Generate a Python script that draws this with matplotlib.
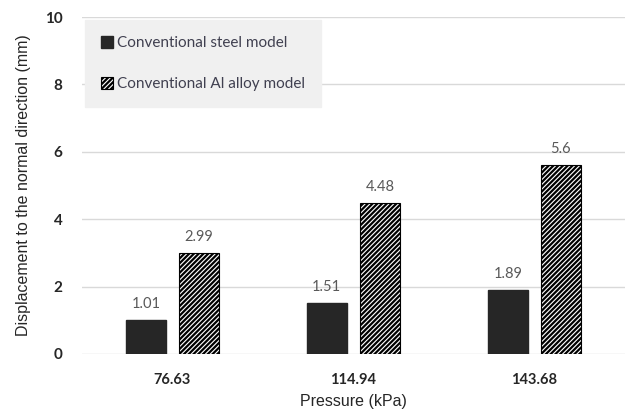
import matplotlib
matplotlib.use("Agg")
import matplotlib.pyplot as plt
import numpy as np

pressures = ["76.63", "114.94", "143.68"]
steel = [1.01, 1.51, 1.89]
al_alloy = [2.99, 4.48, 5.6]
series_names = ["Conventional steel model", "Conventional Al alloy model"]

plt.rcParams["hatch.linewidth"] = 1.6

fig = plt.figure(figsize=(6.33, 4.12), dpi=100)
ax = fig.add_axes([0.1295, 0.1408, 0.8575, 0.8179])

x = np.arange(len(pressures))
w = 0.22
b1 = ax.bar(x - 0.147, steel, w, color="#262626", edgecolor="#262626",
            label=series_names[0], zorder=3)
b2 = ax.bar(x + 0.147, al_alloy, w, color="white", edgecolor="black",
            hatch="///////", linewidth=0.8, label=series_names[1], zorder=3)

for bars, vals in ((b1, steel), (b2, al_alloy)):
    for rect, v in zip(bars, vals):
        ax.text(rect.get_x() + rect.get_width() / 2, v + 0.28, f"{v:g}",
                ha="center", va="bottom", fontsize=10.5, color="#595959",
                family="Lato")

ax.set_xlim(-0.5, 2.5)
ax.set_ylim(0, 10)
ax.set_yticks(np.arange(0, 11, 2))
ax.set_xticks(x)
ax.set_xticklabels(pressures, fontsize=10.5, fontweight="bold", family="Lato",
                   color="#262626")
for lab in ax.get_yticklabels():
    lab.set_fontsize(11)
    lab.set_fontweight("bold")
    lab.set_family("Lato")
    lab.set_color("#262626")
ax.tick_params(axis="both", length=0)
ax.tick_params(axis="y", pad=14)
ax.tick_params(axis="x", pad=14)
ax.grid(axis="y", color="#d9d9d9", linewidth=1, zorder=0)
for s in ax.spines.values():
    s.set_visible(False)

ax.set_xlabel("Pressure (kPa)", fontsize=11.5, family="Liberation Sans",
              color="#262626", labelpad=5)
ax.set_ylabel("Displacement to the normal direction (mm)", fontsize=11.5,
              family="Liberation Sans", color="#262626", labelpad=10)

leg = ax.legend(loc="upper left", bbox_to_anchor=(0.0, 1.0), frameon=True,
                fancybox=False, facecolor="#f0f0f0", edgecolor="#f0f0f0",
                framealpha=1, prop={"family": "Lato", "size": 11},
                labelspacing=1.75, handlelength=0.8, handleheight=0.8,
                handletextpad=0.25, borderpad=1.05, borderaxespad=0.2)
for t in leg.get_texts():
    t.set_color("#404050")

fig.savefig("out.png", dpi=100)
